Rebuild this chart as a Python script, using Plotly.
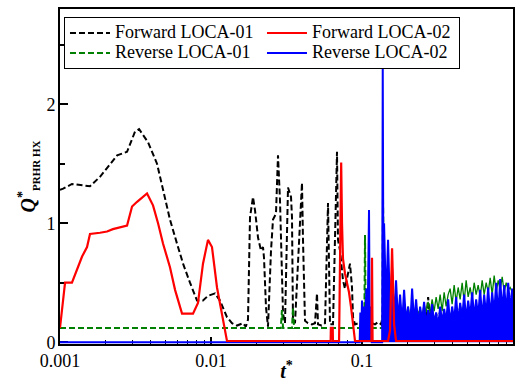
import plotly.graph_objects as go

# ---------------- data ----------------
# Forward LOCA-01 (black dashed)
t_black = [0.001, 0.00105, 0.0012, 0.00158, 0.00184, 0.00239, 0.00278, 0.00314, 0.00334, 0.00383,
           0.00439, 0.00481, 0.00535, 0.00595, 0.00653, 0.00726, 0.00808, 0.00885, 0.00955, 0.01063,
           0.01147, 0.01276, 0.01377, 0.01487, 0.01556, 0.01629, 0.01700, 0.01758, 0.01813, 0.01897,
           0.01956, 0.02048, 0.02143, 0.02210, 0.02244, 0.02314, 0.02385, 0.02497, 0.02574, 0.02694,
           0.02778, 0.02864, 0.02999, 0.03091, 0.03236, 0.03388, 0.03439, 0.03491, 0.03600, 0.03770,
           0.04005, 0.04067, 0.04193, 0.04389, 0.04650, 0.04883, 0.05035, 0.05112, 0.05400, 0.05689,
           0.05955, 0.06140, 0.06427, 0.06830, 0.06934, 0.07152, 0.07484, 0.0771, 0.0808, 0.08328,
           0.08587, 0.08719, 0.08988, 0.095, 0.100, 0.105, 0.110, 0.116, 0.122, 0.128, 0.134]
y_black = [1.28, 1.29, 1.33, 1.31, 1.39, 1.57, 1.60, 1.77, 1.79, 1.68,
           1.50, 1.29, 1.03, 0.83, 0.66, 0.50, 0.35, 0.35, 0.39, 0.41,
           0.35, 0.21, 0.16, 0.14, 0.15, 0.16, 0.13, 0.19, 1.05, 1.22,
           1.11, 0.88, 0.77, 0.80, 0.71, 0.29, 0.13, 0.77, 1.03, 1.08,
           1.57, 1.19, 0.24, 0.16, 1.30, 1.22, 1.05, 0.18, 0.16, 0.71,
           1.34, 0.86, 0.18, 0.16, 0.15, 0.16, 0.41, 0.15, 0.14, 0.16,
           1.17, 0.15, 0.15, 1.60, 0.86, 0.77, 0.52, 0.45, 0.60, 0.66,
           0.46, 0.21, 0.15, 0.16, 0.13, 0.17, 0.14, 0.16, 0.15, 0.17, 0.15]

# Forward LOCA-02 (red solid)
t_red = [0.001, 0.00108, 0.0012, 0.0014, 0.00151, 0.00158, 0.00184, 0.00205, 0.00224, 0.00278,
         0.0030, 0.00324, 0.00377, 0.00413, 0.00446, 0.00481, 0.00535, 0.00578, 0.00643, 0.0076,
         0.0082, 0.00885, 0.00955, 0.01015, 0.01096, 0.01183, 0.01276, 0.0620, 0.0622, 0.0640,
         0.0642, 0.0705, 0.0715, 0.0728, 0.07373, 0.07484, 0.0771, 0.07955, 0.0820, 0.0845,
         0.0872, 0.0899, 0.1155, 0.1165, 0.1175, 0.1375]
y_red = [0.12, 0.50, 0.50, 0.72, 0.80, 0.91, 0.92, 0.93, 0.95, 0.98,
         1.14, 1.18, 1.25, 1.15, 1.00, 0.83, 0.63, 0.44, 0.24, 0.24,
         0.33, 0.66, 0.86, 0.80, 0.46, 0.24, 0.01, 0.01, 0.12, 0.12,
         0.01, 0.01, 1.00, 1.51, 1.00, 0.70, 0.58, 0.50, 0.42, 0.30,
         0.12, 0.01, 0.01, 0.71, 0.01, 0.01]

# Reverse LOCA-01 (green dashed)
t_green = [0.001, 0.0290, 0.0295, 0.0300, 0.0344, 0.0349, 0.0355, 0.1035, 0.1047, 0.1058, 0.1365, 0.1377, 0.1390]
y_green = [0.12, 0.12, 0.27, 0.12, 0.12, 0.29, 0.12, 0.12, 0.90, 0.12, 0.12, 1.22, 0.80]

# Reverse LOCA-02 (blue solid)
t_blue = [0.001, 0.0965, 0.0975, 0.099, 0.100, 0.101, 0.103, 0.1047, 0.107, 0.109,
          0.1113, 0.1125, 0.1145, 0.1160, 0.1360, 0.1372, 0.1385]
y_blue = [0.0, 0.0, 0.25, 0.08, 0.35, 0.10, 0.30, 0.12, 0.45, 0.20,
          1.11, 0.15, 0.30, 0.0, 0.0, 2.33, 0.60]

# late oscillating part (t* > 0.14), shared sampling times
t_noise = [0.140, 0.1443, 0.1488, 0.1534, 0.1582, 0.1631, 0.1681, 0.1733, 0.1787, 0.1843,
           0.190, 0.1959, 0.202, 0.2082, 0.2147, 0.2213, 0.2282, 0.2353, 0.2426, 0.2501,
           0.2578, 0.2658, 0.2741, 0.2826, 0.2913, 0.3004, 0.3097, 0.3193, 0.3292, 0.3394,
           0.3499, 0.3607, 0.3719, 0.3834, 0.3953, 0.4076, 0.4202, 0.4332, 0.4467, 0.4605,
           0.4748, 0.4895, 0.5047, 0.5203, 0.5365, 0.5531, 0.5702, 0.5879, 0.6061, 0.6249,
           0.6443, 0.6643, 0.6849, 0.7061, 0.728, 0.7505, 0.7738, 0.7978, 0.8225, 0.848,
           0.8743, 0.9014, 0.9293, 0.9581, 0.9878, 1.0]
blue_noise = [1.00, 0.30, 0.86, 0.25, 0.62, 0.18, 0.52, 0.16, 0.40, 0.15,
              0.44, 0.16, 0.30, 0.12, 0.45, 0.16, 0.36, 0.14, 0.30, 0.17,
              0.34, 0.14, 0.27, 0.17, 0.32, 0.15, 0.25, 0.12, 0.30, 0.16,
              0.28, 0.17, 0.36, 0.15, 0.30, 0.18, 0.38, 0.16, 0.33, 0.20,
              0.40, 0.18, 0.35, 0.21, 0.42, 0.20, 0.36, 0.21, 0.44, 0.20,
              0.40, 0.22, 0.46, 0.21, 0.42, 0.24, 0.50, 0.22, 0.53, 0.25,
              0.48, 0.24, 0.50, 0.28, 0.45, 0.30]
green_noise = [0.80, 0.45, 0.60, 0.30, 0.45, 0.25, 0.40, 0.22, 0.35, 0.20,
               0.33, 0.22, 0.30, 0.20, 0.32, 0.22, 0.30, 0.24, 0.28, 0.22,
               0.32, 0.25, 0.34, 0.24, 0.36, 0.26, 0.38, 0.28, 0.40, 0.26,
               0.42, 0.30, 0.40, 0.45, 0.32, 0.48, 0.34, 0.46, 0.36, 0.50,
               0.34, 0.52, 0.38, 0.46, 0.36, 0.50, 0.40, 0.48, 0.38, 0.52,
               0.40, 0.50, 0.42, 0.54, 0.40, 0.56, 0.42, 0.52, 0.44, 0.55,
               0.42, 0.50, 0.44, 0.46, 0.42, 0.44]
black_noise = [0.30, 0.18, 0.25, 0.16, 0.22, 0.15, 0.24, 0.17, 0.20, 0.15,
               0.22, 0.16, 0.20, 0.15, 0.24, 0.17, 0.22, 0.15, 0.20, 0.16,
               0.25, 0.17, 0.38, 0.18, 0.22, 0.16, 0.24, 0.18, 0.26, 0.17,
               0.25, 0.19, 0.27, 0.18, 0.26, 0.20, 0.28, 0.19, 0.30, 0.20,
               0.29, 0.21, 0.30, 0.20, 0.32, 0.22, 0.30, 0.21, 0.33, 0.22,
               0.31, 0.23, 0.34, 0.22, 0.32, 0.24, 0.35, 0.23, 0.33, 0.24,
               0.36, 0.25, 0.34, 0.24, 0.33, 0.30]
red_noise = [0.01, 0.01, 0.01, 0.10, 0.79, 0.15, 0.01, 0.01, 0.01, 0.01,
             0.01, 0.01, 0.01, 0.01, 0.01, 0.01, 0.01, 0.01, 0.01, 0.01,
             0.01, 0.01, 0.01, 0.01, 0.01, 0.01, 0.01, 0.01, 0.01, 0.01,
             0.01, 0.01, 0.01, 0.01, 0.01, 0.01, 0.01, 0.01, 0.01, 0.01,
             0.01, 0.01, 0.01, 0.01, 0.01, 0.01, 0.01, 0.01, 0.01, 0.01,
             0.01, 0.01, 0.01, 0.01, 0.01, 0.01, 0.01, 0.01, 0.01, 0.01,
             0.01, 0.01, 0.01, 0.01, 0.01, 0.01]

series_names = ["Forward LOCA-01", "Reverse LOCA-01", "Reverse LOCA-02", "Forward LOCA-02"]
x_tickvals = [0.001, 0.01, 0.1, 1]
x_ticktext = ["0.001", "0.01", "0.1", "1"]
y_tickvals = [0, 1, 2]
y_minorvals = [0.5, 1.5, 2.5]

# ---------------- figure ----------------
FONT = '"Liberation Serif", "Times New Roman", serif'
GREEN = "#008000"
BLUE = "#0000ff"
RED = "#ff0000"
DASH = "6px,3px"


def lg(name):
    return '<span style="font-size:18px">' + name + "</span>"


fig = go.Figure()
fig.add_trace(go.Scatter(x=t_black + t_noise, y=y_black + black_noise, mode="lines",
                         name=lg(series_names[0]), legendrank=1,
                         line=dict(color="black", width=2, dash=DASH)))
fig.add_trace(go.Scatter(x=t_green, y=y_green, mode="lines", name=lg(series_names[1]),
                         legendrank=3, legendgroup="r01",
                         line=dict(color=GREEN, width=2, dash=DASH)))
fig.add_trace(go.Scatter(x=t_noise, y=green_noise, mode="lines", showlegend=False,
                         legendgroup="r01", line=dict(color=GREEN, width=1.3)))
fig.add_trace(go.Scatter(x=t_blue + t_noise, y=y_blue + blue_noise, mode="lines",
                         fill="tozeroy", fillcolor=BLUE, showlegend=False,
                         line=dict(color=BLUE, width=0)))
fig.add_trace(go.Scatter(x=t_blue + t_noise, y=y_blue + blue_noise, mode="lines",
                         name=lg(series_names[2]), legendrank=4,
                         line=dict(color=BLUE, width=2)))
fig.add_trace(go.Scatter(x=t_red + t_noise, y=y_red + red_noise, mode="lines",
                         name=lg(series_names[3]), legendrank=2,
                         line=dict(color=RED, width=2.2)))

fig.update_layout(
    width=517, height=382,
    margin=dict(l=60, r=4, t=9, b=38),
    paper_bgcolor="white", plot_bgcolor="white",
    font=dict(family=FONT, size=18, color="black"),
    showlegend=True,
    legend=dict(orientation="h", x=0.0088, y=0.976, xanchor="left", yanchor="top",
                bgcolor="white", bordercolor="black", borderwidth=1,
                font=dict(family=FONT, size=13, color="black"),
                itemwidth=40,
                entrywidth=142, entrywidthmode="pixels", traceorder="normal",
                tracegroupgap=0),
)
fig.update_xaxes(type="log", range=[-3, 0], tickmode="array", tickvals=x_tickvals, ticktext=x_ticktext,
                 automargin=False,
                 ticks="inside", ticklen=7, tickwidth=1.5, tickcolor="black", ticklabelstandoff=-1,
                 minor=dict(ticks="inside", ticklen=4, tickwidth=1, tickcolor="black", dtick="D1"),
                 showline=True, linecolor="black", linewidth=2, mirror=True,
                 showgrid=False, zeroline=False, layer="below traces",
                 title=dict(text="<b><i>t</i><sup>*</sup></b>", font=dict(family=FONT, size=20), standoff=2))
fig.update_yaxes(range=[-0.015, 2.8], tickmode="array", tickvals=y_tickvals,
                 automargin=False,
                 ticks="inside", ticklen=8, tickwidth=1.5, tickcolor="black", ticklabelstandoff=-1,
                 minor=dict(ticks="inside", ticklen=5, tickwidth=1.5, tickcolor="black",
                            tickmode="array", tickvals=y_minorvals),
                 showline=True, linecolor="black", linewidth=2, mirror=True,
                 showgrid=False, zeroline=False, layer="below traces",
                 title=dict(text='<b><i>Q</i><sup>*</sup><sub><span style="font-size:11px">PRHR HX</span></sub></b>',
                            font=dict(family=FONT, size=20), standoff=5))

fig.write_html("out.html", config={"displayModeBar": False},
               post_script="document.body.style.margin='0';")
